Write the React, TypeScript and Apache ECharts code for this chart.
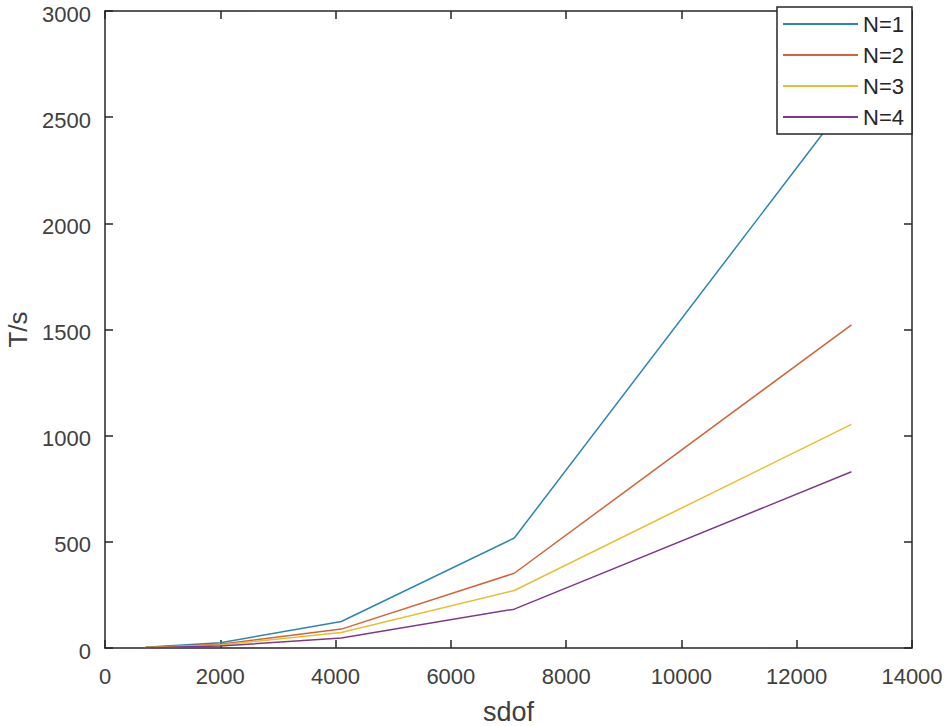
import React, { useEffect, useRef } from "react";
import * as echarts from "echarts";

const sdof = [700, 2000, 4100, 7100, 12950];
const seriesNames = ["N=1", "N=2", "N=3", "N=4"];
const n1 = [3, 25, 125, 518, 2600];
const n2 = [2, 18, 89, 352, 1522];
const n3 = [2, 14, 73, 271, 1053];
const n4 = [1, 9, 47, 183, 830];
const colors = ["#2b86b3", "#d2643a", "#e6bf2e", "#7b3b8a"];
const xTicks = { min: 0, max: 14000, interval: 2000 };
const yTicks = { min: 0, max: 3000, interval: 500 };

const FONT = "'Liberation Sans', Arial, sans-serif";

export default function App() {
  const ref = useRef<HTMLDivElement>(null);
  useEffect(() => {
    if (!ref.current) return;
    const chart = echarts.init(ref.current, undefined, { renderer: "svg" });
    const values = [n1, n2, n3, n4];
    const axisLine = () => ({ show: true, onZero: false, lineStyle: { color: "#262626", width: 1.5 } });
    const tick = () => ({ show: true, inside: true, length: 8, lineStyle: { color: "#262626", width: 1.5 } });
    const fmt = (v: number) => String(v);
    chart.setOption({
      animation: false,
      backgroundColor: "#ffffff",
      grid: { left: 105, right: 38, top: 11, bottom: 78, containLabel: false, outerBoundsMode: "none" },
      legend: {
        data: seriesNames,
        orient: "vertical",
        left: 777,
        top: 7,
        backgroundColor: "#ffffff",
        borderColor: "#262626",
        borderWidth: 1.5,
        borderRadius: 0,
        padding: [6, 8, 6, 6],
        itemWidth: 75,
        itemHeight: 2,
        itemGap: 9,
        icon: "rect",
        textStyle: { fontFamily: FONT, fontSize: 22, color: "#262626", lineHeight: 22 },
      },
      xAxis: [
        {
          type: "value",
          ...xTicks,
          position: "bottom",
          name: "sdof",
          nameLocation: "middle",
          nameGap: 50,
          nameTextStyle: { fontFamily: FONT, fontSize: 27, color: "#404040" },
          axisLine: axisLine(),
          axisTick: tick(),
          splitLine: { show: false },
          axisLabel: { fontFamily: FONT, fontSize: 22, color: "#404040", margin: 17, formatter: fmt },
        },
        {
          type: "value",
          ...xTicks,
          position: "top",
          axisLine: axisLine(),
          axisTick: tick(),
          splitLine: { show: false },
          axisLabel: { show: false },
        },
      ],
      yAxis: [
        {
          type: "value",
          ...yTicks,
          position: "left",
          name: "T/s",
          nameLocation: "middle",
          nameGap: 74,
          nameTextStyle: { fontFamily: FONT, fontSize: 26, color: "#404040" },
          axisLine: axisLine(),
          axisTick: tick(),
          splitLine: { show: false },
          axisLabel: {
            color: "#404040",
            margin: 14,
            formatter: (v: number) => "{t|" + fmt(v) + "}",
            rich: {
              t: {
                fontFamily: FONT,
                fontSize: 22,
                lineHeight: 22,
                color: "#404040",
                padding: [6, 0, 0, 0],
              },
            },
          },
        },
        {
          type: "value",
          ...yTicks,
          position: "right",
          axisLine: axisLine(),
          axisTick: tick(),
          splitLine: { show: false },
          axisLabel: { show: false },
        },
      ],
      series: seriesNames.map((name, i) => ({
        name,
        type: "line",
        xAxisIndex: 0,
        yAxisIndex: 0,
        data: sdof.map((x, j) => [x, values[i][j]]),
        showSymbol: false,
        symbol: "none",
        lineStyle: { color: colors[i], width: 1.5 },
        itemStyle: { color: colors[i] },
        z: 2,
      })),
    });
    return () => chart.dispose();
  }, []);
  return (
    <div
      ref={ref}
      style={{ position: "fixed", left: 0, top: 0, width: 950, height: 726, background: "#fff" }}
    />
  );
}
